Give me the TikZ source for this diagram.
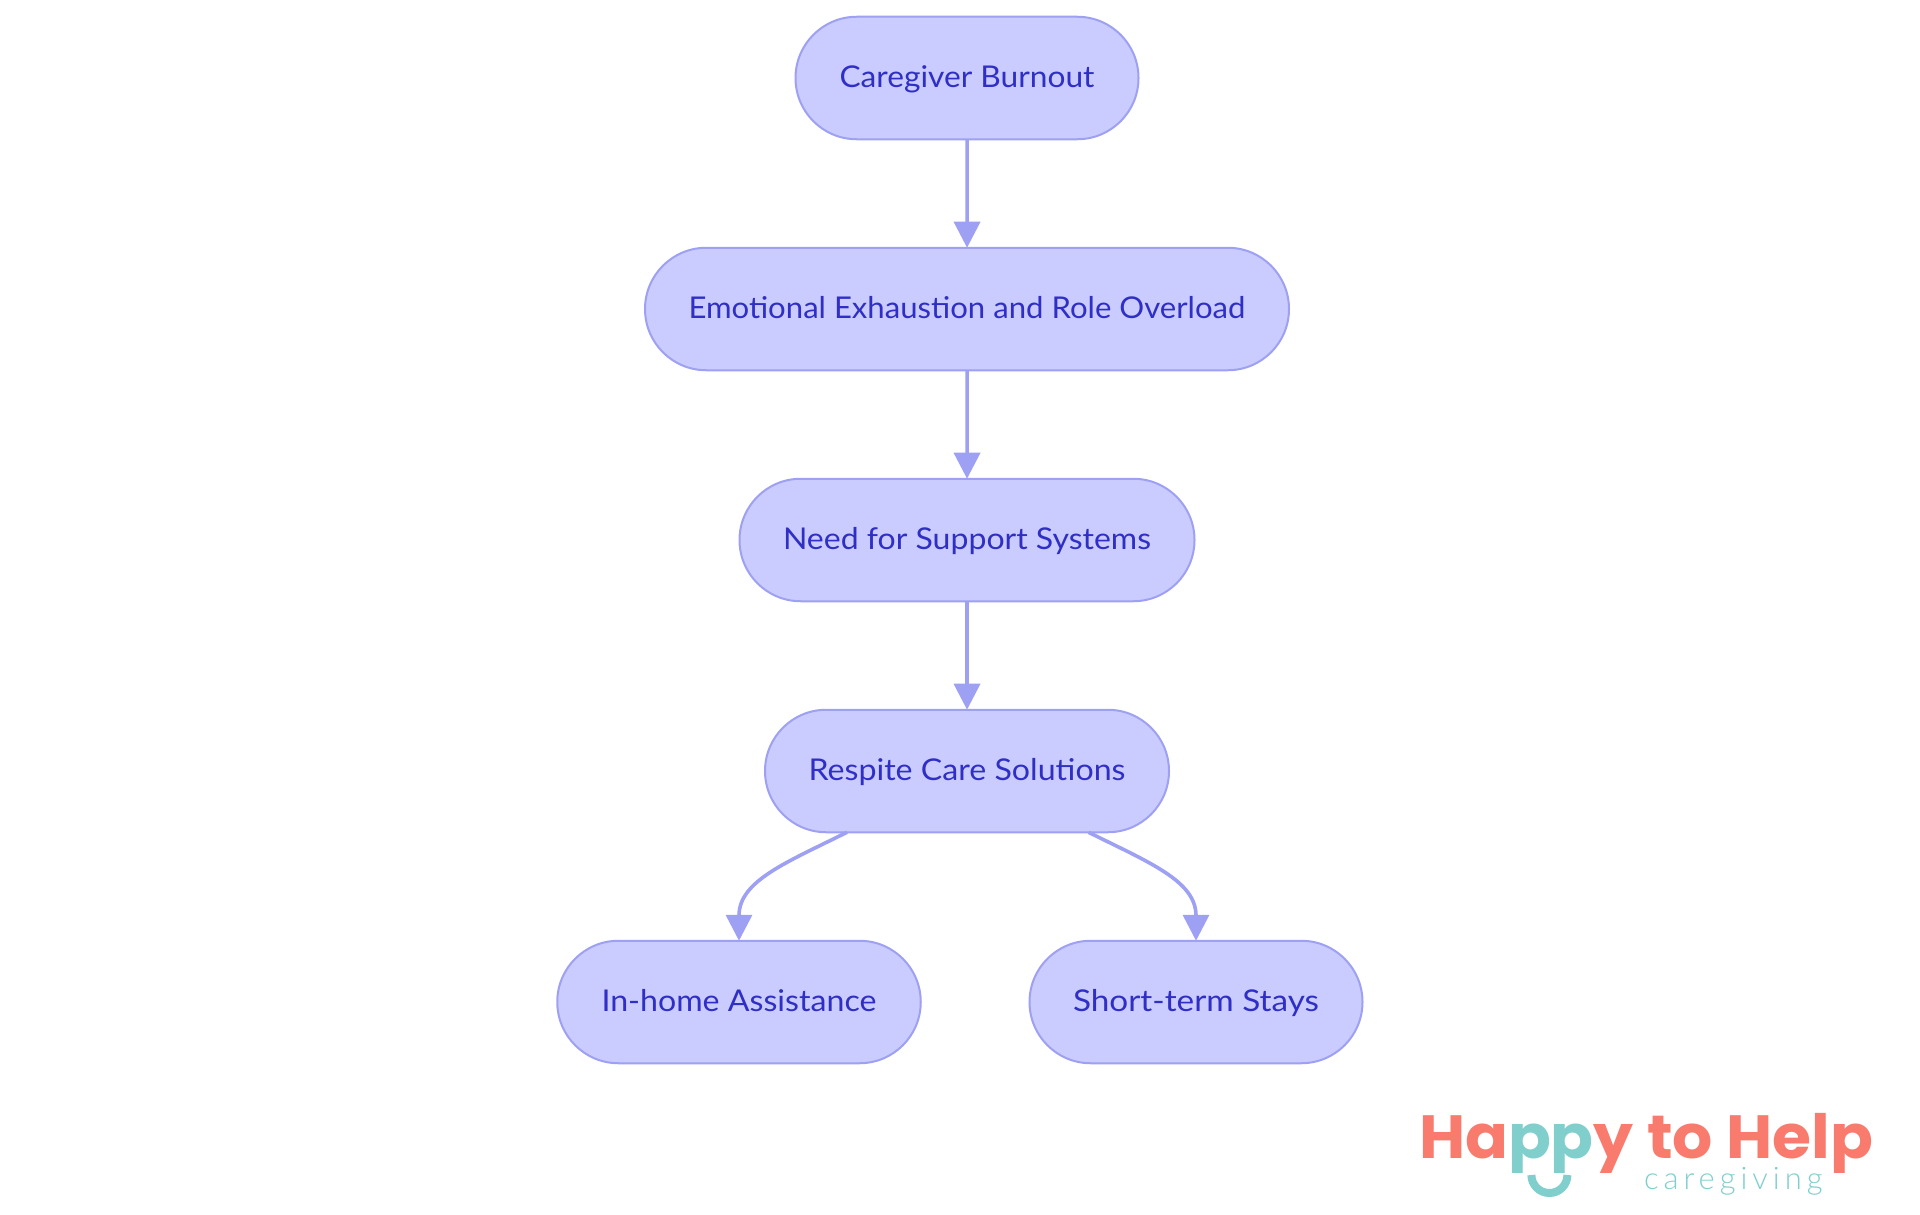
\documentclass[tikz,border=0pt]{standalone}
\usepackage{fontspec}
\usepackage{graphicx}
\setmainfont{Lato}
\newfontfamily\logofont{Poppins}
\newfontfamily\sublogofont[LetterSpace=16]{Lato Light}
\usetikzlibrary{arrows.meta,shapes.misc}
\definecolor{boxfill}{HTML}{CACBFE}
\definecolor{boxline}{HTML}{9EA1F3}
\definecolor{boxtext}{HTML}{2F2FC6}
\definecolor{logored}{HTML}{F87B6D}
\definecolor{logoteal}{HTML}{80CFCD}
\newcommand{\fitwidth}[2]{\resizebox{#1pt}{\height}{#2}}
\tikzset{
  x=1pt,y=-1pt,
  flowbox/.style={rounded rectangle,draw=boxline,fill=boxfill,line width=2pt,
    minimum height=122.5pt,inner xsep=0pt,inner ysep=0pt,outer sep=0pt,
    text=boxtext,text height=23.5pt,text depth=5pt,
    font=\fontsize{30}{36}\selectfont},
  flowedge/.style={draw=boxline,line width=3.6pt,
    -{Triangle[length=26pt,width=26pt,fill=boxline]}},
  logotext/.style={anchor=base west,inner sep=0pt,outer sep=0pt}
}
\begin{document}
\begin{tikzpicture}
\useasboundingbox (0,0) rectangle (1920,1215);
\fill[white] (0,0) rectangle (1920,1215);
\node[flowbox,minimum width=343pt] (a) at (967,78) {\fitwidth{255}{Caregiver Burnout}};
\node[flowbox,minimum width=644pt] (b) at (967,309) {\fitwidth{557}{Emotional Exhaustion and Role Overload}};
\node[flowbox,minimum width=455pt] (c) at (967,540) {\fitwidth{368}{Need for Support Systems}};
\node[flowbox,minimum width=404pt] (d) at (967,771) {\fitwidth{317}{Respite Care Solutions}};
\node[flowbox,minimum width=363.5pt] (e) at (739,1002) {\fitwidth{275}{In-home Assistance}};
\node[flowbox,minimum width=333pt] (f) at (1196,1002) {\fitwidth{246}{Short-term Stays}};
\draw[flowedge] (a) -- (b);
\draw[flowedge] (b) -- (c);
\draw[flowedge] (c) -- (d);
\draw[flowedge] ([xshift=-120pt]d.south) .. controls +(-60,30) and +(0,-60) .. (e.north);
\draw[flowedge] ([xshift=121.5pt]d.south) .. controls +(60,30) and +(0,-60) .. (f.north);
\begin{scope}
\clip (1400,1100) rectangle (1900,1172);
\node[logotext] (logo) at (1419,1158) {\resizebox{454pt}{\height}{\logofont\bfseries\fontsize{61}{70}\selectfont\textcolor{logored}{Ha}\textcolor{logoteal}{pp}\textcolor{logored}{y to Help}}};
\end{scope}
\node[logotext,text=logoteal] (sub) at (1644,1189) {\sublogofont\fontsize{31}{36}\selectfont caregiving};
\draw[logoteal,line width=8pt] (1531.4,1175) arc[start angle=180,end angle=0,radius=18];
\end{tikzpicture}
\end{document}
